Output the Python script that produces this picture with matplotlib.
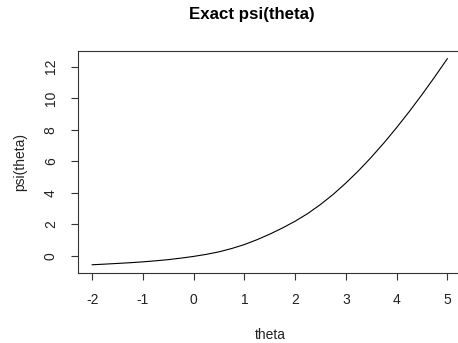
import matplotlib
matplotlib.use("Agg")
import matplotlib.pyplot as plt

plt.rcParams['font.family'] = ['Liberation Sans', 'DejaVu Sans']

theta = [-2.0, -1.75, -1.5, -1.25, -1.0, -0.75, -0.5, -0.25, 0.0, 0.25, 0.5, 0.75,
         1.0, 1.25, 1.5, 1.75, 2.0, 2.25, 2.5, 2.75, 3.0, 3.25, 3.5, 3.75,
         4.0, 4.25, 4.5, 4.75, 5.0]
psi = [-0.56, -0.52, -0.475, -0.43, -0.375, -0.31, -0.235, -0.14, -0.03, 0.10, 0.26, 0.47,
       0.72, 1.03, 1.38, 1.77, 2.20, 2.69, 3.26, 3.90, 4.62, 5.40, 6.25, 7.16,
       8.13, 9.15, 10.22, 11.34, 12.50]
xticks = [-2, -1, 0, 1, 2, 3, 4, 5]
yticks = [0, 2, 4, 6, 8, 10, 12]

W, H = 458, 343
fig = plt.figure(figsize=(W / 100, H / 100), dpi=100)
left, right, top, bottom = 78, 461.5, 50.5, 273
ax = fig.add_axes([left / W, 1 - bottom / H, (right - left) / W, (bottom - top) / H])

ax.plot(theta, psi, color='black', lw=0.8)

xr = max(theta) - min(theta)
yr = max(psi) - min(psi)
ax.set_xlim(min(theta) - 0.04 * xr, max(theta) + 0.04 * xr)
ax.set_ylim(min(psi) - 0.04 * yr, max(psi) + 0.04 * yr)

ax.set_xticks(xticks)
ax.set_yticks(yticks)
ax.set_xticklabels([str(v) for v in xticks])
ax.set_yticklabels([str(v) for v in yticks], rotation=90, va='center')
ax.tick_params(axis='both', length=5.0, width=0.8, color='#333333',
               labelsize=10, labelcolor='#222222')
ax.tick_params(axis='x', pad=9.5)
ax.tick_params(axis='y', pad=9.5)

for s in ax.spines.values():
    s.set_color('#333333')
    s.set_linewidth(0.8)

fig.text(252 / W, 1 - 15 / H, 'Exact psi(theta)', ha='center', va='center',
         fontsize=12.2, fontweight='bold', color='black')
fig.text(270 / W, 1 - 335 / H, 'theta', ha='center', va='center',
         fontsize=10, color='#222222')
fig.text(20 / W, 1 - 162 / H, 'psi(theta)', ha='center', va='center',
         rotation=90, fontsize=10, color='#222222')

fig.savefig('out.png', dpi=100)
